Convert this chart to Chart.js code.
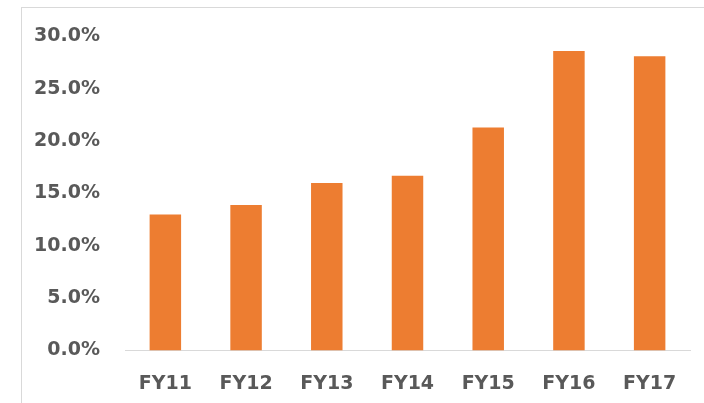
<!DOCTYPE html>
<html>
<head>
<meta charset="utf-8">
<script src="https://cdn.jsdelivr.net/npm/chart.js@4/dist/chart.umd.min.js"></script>
<style>
  body { margin: 0; background: #fff; }
  .wrap { position: relative; width: 704px; height: 403px; overflow: hidden; }
  .frame { position: absolute; left: 21px; top: 7px; width: 800px; height: 500px; border: 1px solid #d9d9d9; }
  canvas { position: absolute; left: 0; top: 0; }
</style>
</head>
<body>
<div class="wrap">
  <div class="frame"></div>
  <canvas id="chart" width="704" height="403"></canvas>
</div>
<script>
  // data
  var years = ["FY11", "FY12", "FY13", "FY14", "FY15", "FY16", "FY17"];
  var ratio = [13.0, 13.9, 16.0, 16.7, 21.3, 28.6, 28.1];
  var yTicks = [0, 5, 10, 15, 20, 25, 30];

  var labelFont = { family: "DejaVu Sans", size: 19, weight: "bold" };

  var ctx = document.getElementById("chart").getContext("2d");
  var myChart = new Chart(ctx, {
    type: "bar",
    data: {
      labels: years,
      datasets: [
        {
          data: ratio,
          backgroundColor: "#ED7D31",
          categoryPercentage: 1,
          barPercentage: 0.39,
        },
      ],
    },
    options: {
      responsive: false,
      animation: false,
      devicePixelRatio: 1,
      layout: { padding: { top: 33, right: 14, bottom: 0, left: 0 } },
      plugins: { legend: { display: false }, tooltip: { enabled: false } },
      scales: {
        x: {
          afterFit: function (scale) {
            scale.height = 52.5;
          },
          grid: { display: false, drawTicks: false },
          border: { display: true, color: "#d9d9d9", width: 1 },
          ticks: { color: "#595959", font: labelFont, padding: 22, maxRotation: 0 },
        },
        y: {
          min: yTicks[0],
          max: yTicks[yTicks.length - 1],
          afterFit: function (scale) {
            scale.width = 125;
          },
          afterBuildTicks: function (scale) {
            scale.ticks = yTicks.map(function (v) {
              return { value: v };
            });
          },
          grid: { display: false, drawTicks: false },
          border: { display: false },
          ticks: {
            color: "#595959",
            font: labelFont,
            padding: 25,
            callback: function (value) {
              return value.toFixed(1) + "%";
            },
          },
        },
      },
    },
  });
</script>
</body>
</html>
